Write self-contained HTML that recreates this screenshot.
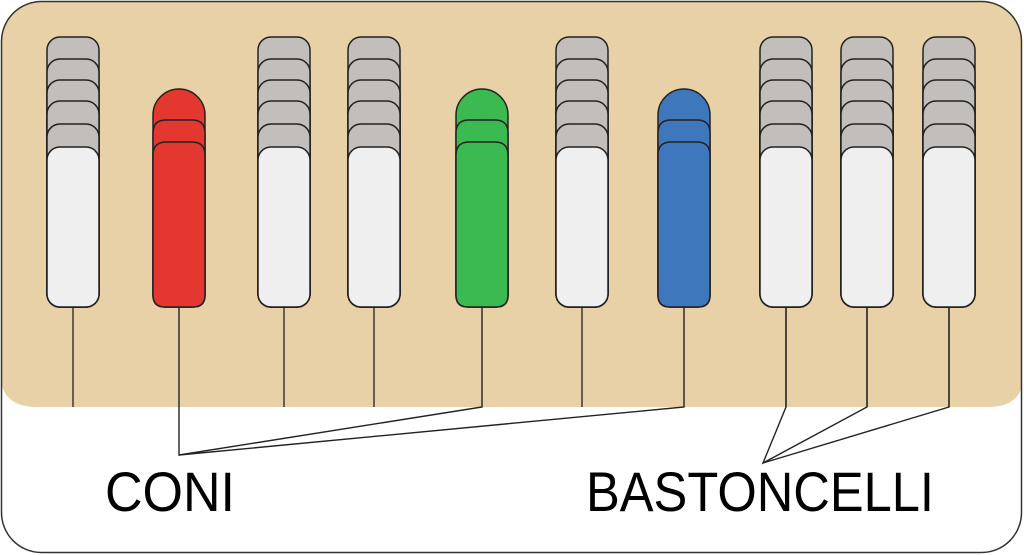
<!DOCTYPE html>
<html><head><style>html,body{margin:0;padding:0;background:#fff}svg{display:block}</style></head><body>
<svg width="1024" height="555" viewBox="0 0 1024 555" xmlns="http://www.w3.org/2000/svg">
<defs>
<clipPath id="c"><rect x="1.5" y="1.5" width="1020" height="551" rx="40"/></clipPath>
<g id="rod" stroke="#222" stroke-width="1.5">
<rect x="0" y="37" width="52" height="270" rx="13" fill="#c1bebb"/>
<rect x="0" y="59" width="52" height="248" rx="13" fill="#c1bebb"/>
<rect x="0" y="80" width="52" height="227" rx="13" fill="#c1bebb"/>
<rect x="0" y="101" width="52" height="206" rx="13" fill="#c1bebb"/>
<rect x="0" y="124" width="52" height="183" rx="13" fill="#c1bebb"/>
<rect x="0" y="147" width="52" height="160" rx="13" fill="#efefef"/>
<line x1="26" y1="307" x2="26" y2="407" stroke="#222" stroke-width="1.3"/>
</g>
</defs>
<g clip-path="url(#c)">
<path d="M0 0 H1024 V372 Q1024 407 989 407 H37 Q0 407 0 372 Z" fill="#e8d1a6"/>
</g>
<rect x="1.5" y="1.5" width="1020" height="551" rx="40" fill="none" stroke="#333" stroke-width="1.5"/>
<use href="#rod" x="47"/><use href="#rod" x="258"/><use href="#rod" x="348"/><use href="#rod" x="556"/>
<use href="#rod" x="760"/><use href="#rod" x="841"/><use href="#rod" x="923"/>
<g stroke="#222" stroke-width="1.5">
<path d="M153 295 V115 A26 26 0 0 1 205 115 V295 Q205 307 193 307 H165 Q153 307 153 295Z" fill="#e3372f"/>
<path d="M153 295 V133 Q153 120 166 120 H192 Q205 120 205 133 V295 Q205 307 193 307 H165 Q153 307 153 295Z" fill="#e3372f"/>
<path d="M153 295 V155 Q153 142 166 142 H192 Q205 142 205 155 V295 Q205 307 193 307 H165 Q153 307 153 295Z" fill="#e3372f"/>
<path d="M456 295 V115 A26 26 0 0 1 508 115 V295 Q508 307 496 307 H468 Q456 307 456 295Z" fill="#3aba50"/>
<path d="M456 295 V133 Q456 120 469 120 H495 Q508 120 508 133 V295 Q508 307 496 307 H468 Q456 307 456 295Z" fill="#3aba50"/>
<path d="M456 295 V155 Q456 142 469 142 H495 Q508 142 508 155 V295 Q508 307 496 307 H468 Q456 307 456 295Z" fill="#3aba50"/>
<path d="M658 295 V115 A26 26 0 0 1 710 115 V295 Q710 307 698 307 H670 Q658 307 658 295Z" fill="#3f77bc"/>
<path d="M658 295 V133 Q658 120 671 120 H697 Q710 120 710 133 V295 Q710 307 698 307 H670 Q658 307 658 295Z" fill="#3f77bc"/>
<path d="M658 295 V155 Q658 142 671 142 H697 Q710 142 710 155 V295 Q710 307 698 307 H670 Q658 307 658 295Z" fill="#3f77bc"/>
</g>
<g fill="none" stroke="#222" stroke-width="1.4">
<path d="M179 307 V455 L482 407 V307"/>
<path d="M179 455 L684 407 V307"/>
<path d="M786 307 V407 L763 463 L867 407 V307"/>
<path d="M763 463 L949 407 V307"/>
</g>
<text x="105" y="511" font-family="Liberation Sans, sans-serif" font-size="56" textLength="130" lengthAdjust="spacingAndGlyphs">CONI</text>
<text x="586" y="511" font-family="Liberation Sans, sans-serif" font-size="56" textLength="348" lengthAdjust="spacingAndGlyphs">BASTONCELLI</text>
</svg>
</body></html>
